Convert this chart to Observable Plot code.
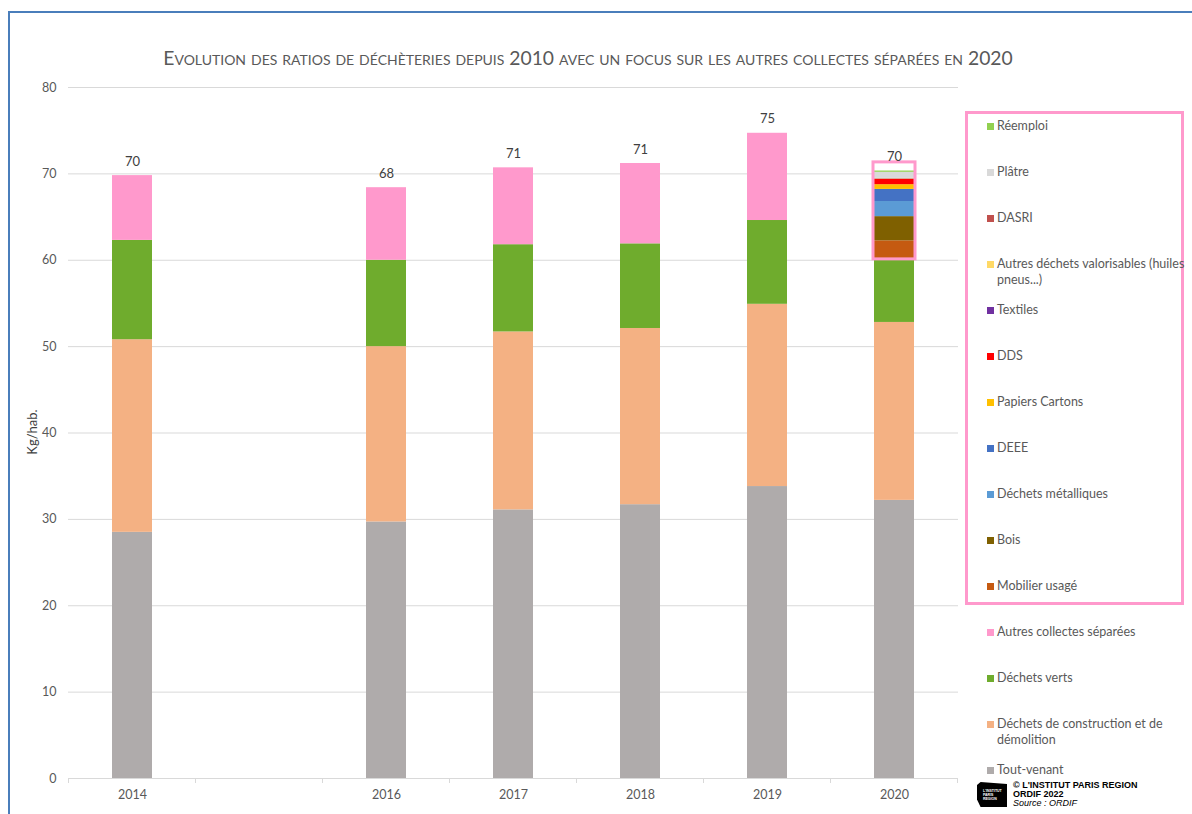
<!DOCTYPE html>
<html><head><meta charset="utf-8">
<script src="https://cdn.jsdelivr.net/npm/d3@7"></script>
<script src="https://cdn.jsdelivr.net/npm/@observablehq/plot@0.6"></script>
<style>
html,body{margin:0;padding:0;background:#fff;overflow:hidden;}
#page{position:relative;width:1192px;height:814px;overflow:hidden;font-family:Lato,"Open Sans",sans-serif;background:#fff;}
#frame{position:absolute;left:8px;top:11px;width:1300px;height:900px;border:2px solid #4A7EBB;box-sizing:border-box;}
#chart{position:absolute;left:0;top:0;}
#title{position:absolute;left:0;width:1176px;top:46px;text-align:center;font-variant:small-caps;font-size:19.3px;line-height:24px;color:#595959;white-space:nowrap;}
#ylabel{position:absolute;left:32px;top:432px;transform:translate(-50%,-50%) rotate(-90deg);font-size:13px;color:#404040;white-space:nowrap;}
#legendBox{position:absolute;left:965px;top:111px;width:219px;height:494px;border:3px solid #FF99CC;box-sizing:border-box;}
.litem{position:absolute;left:997px;width:200px;font-size:12.5px;line-height:16px;color:#595959;}
.lsw{position:absolute;left:987px;width:7px;height:7px;}
#logo{position:absolute;left:977px;top:782px;width:30px;height:25px;background:#000;clip-path:polygon(12% 0,100% 8%,100% 100%,12% 100%,0 70%,0 12%);color:#fff;font-family:Arial,sans-serif;font-size:3.5px;line-height:4px;font-weight:bold;padding:7px 0 0 6px;box-sizing:border-box;}
#credit{position:absolute;left:1013px;top:781px;font-family:Arial,"Liberation Sans",sans-serif;font-size:9px;line-height:9px;color:#000;}
</style></head>
<body><div id="page">
<div id="frame"></div>
<div id="chart"></div>
<div id="title">Evolution des ratios de déchèteries depuis 2010 avec un focus sur les autres collectes séparées en 2020</div>
<div id="ylabel">Kg/hab.</div>
<div id="legendBox"></div>
<div id="logo">L'INSTITUT<br>PARIS<br>REGION</div>
<div id="credit"><b>© L'INSTITUT PARIS REGION</b><br><b>ORDIF 2022</b><br><i>Source : ORDIF</i></div>
</div>
<script>
// Categories (2015 slot is empty in the original chart)
const years = ["2014","2015","2016","2017","2018","2019","2020"];
const yearsWithData = ["2014","2016","2017","2018","2019","2020"];

// Main series (kg/hab.), null = no value
const toutVenant      = [28.5, null, 29.7, 31.1, 31.7, 33.8, 32.2];
const dechetsConstr   = [22.3, null, 20.3, 20.6, 20.4, 21.1, 20.6];
const dechetsVerts    = [11.5, null, 10.0, 10.1,  9.8,  9.7,  7.3];
const autresCollectes = [ 7.5, null,  8.4,  8.9,  9.3, 10.1, null];

// 2020 focus on the "autres collectes séparées" detail (bottom to top)
const detailSeries = ["Mobilier usagé","Bois","Déchets métalliques","DEEE","Papiers Cartons","DDS","Textiles","Autres déchets valorisables (huiles pneus...)","DASRI","Plâtre","Réemploi"];
const detail2020   = [2.15, 2.8, 1.75, 1.4, 0.55, 0.6, 0.05, 0.05, 0.03, 0.7, 0.15];

// Series order (bottom to top) and colours
const stackOrder = ["Tout-venant","Déchets de construction et de démolition","Déchets verts","Autres collectes séparées", ...detailSeries];
const seriesColors = ["#AFABAB","#F4B183","#6FAC2D","#FF99CC","#C55A11","#7F6000","#5B9BD5","#4472C4","#FFC000","#FF0000","#7030A0","#FFD966","#C0504D","#D9D9D9","#92D050"];
const yTicks = [0,10,20,30,40,50,60,70,80];

// Build long table
const rows = [];
const mainSeries = [["Tout-venant", toutVenant],["Déchets de construction et de démolition", dechetsConstr],["Déchets verts", dechetsVerts],["Autres collectes séparées", autresCollectes]];
years.forEach((yr, i) => {
  for (const [name, vals] of mainSeries) if (vals[i] != null) rows.push({year: yr, series: name, value: vals[i]});
});
detailSeries.forEach((name, j) => rows.push({year: "2020", series: name, value: detail2020[j]}));

// Focus box for 2020: from top of the first three series to just above the total
const i2020 = years.indexOf("2020");
const focusLo = toutVenant[i2020] + dechetsConstr[i2020] + dechetsVerts[i2020];
const focusHi = focusLo + d3.sum(detail2020) + 1;
const focus = [{year: "2020", lo: focusLo, hi: focusHi}];

function boundaryTicks(index, scales) {
  const x = scales.x, y = scales.y;
  const bw = typeof x.bandwidth === "function" ? x.bandwidth() : 0;
  const step = typeof x.step === "function" ? x.step() : bw;
  const dom = x.domain();
  const y0 = y(0);
  const pos = dom.map(d => x(d) - (step - bw) / 2);
  pos.push(x(dom[dom.length - 1]) + bw + (step - bw) / 2);
  const g = d3.create("svg:g").attr("stroke", "#d9d9d9");
  for (const p of pos) g.append("line").attr("x1", p).attr("x2", p).attr("y1", y0).attr("y2", y0 + 5);
  return g.node();
}

const chart = Plot.plot({
  width: 1192, height: 814,
  marginLeft: 68, marginRight: 234, marginTop: 87, marginBottom: 36,
  style: {background: "transparent", fontFamily: "Lato, 'Open Sans', sans-serif", fontSize: "12.5px", color: "#595959"},
  x: {domain: years, paddingInner: 0.685, paddingOuter: 0.3425, tickSize: 0, tickPadding: 12, label: null,
      tickFormat: d => yearsWithData.includes(d) ? d : ""},
  y: {domain: [0, 80], ticks: 8, tickSize: 0, tickPadding: 12, label: null},
  color: {domain: stackOrder, range: seriesColors},
  marks: [
    Plot.ruleY(yTicks, {stroke: "#d9d9d9"}),
    Plot.barY(rows, {x: "year", y: "value", fill: "series", order: stackOrder}),
    Plot.barY(focus, {x: "year", y1: "lo", y2: "hi", fill: "none", stroke: "#FF99CC", strokeWidth: 3, insetLeft: -1, insetRight: -1}),
    Plot.text(rows, Plot.groupX({y: "sum", text: V => Math.round(d3.sum(V))}, {x: "year", y: "value", text: "value", dy: -14, fill: "#404040", fontSize: 13})),
    boundaryTicks
  ]
});
document.getElementById("chart").appendChild(chart);

// Legend (top to bottom = reverse of stack order)
const page = document.getElementById("page");
const legendOrder = stackOrder.slice().reverse();
legendOrder.forEach((name, k) => {
  const cy = 126 + k * 46;
  const sw = document.createElement("div");
  sw.className = "lsw";
  sw.style.top = (cy - 3.5) + "px";
  sw.style.background = seriesColors[stackOrder.indexOf(name)];
  page.appendChild(sw);
  const t = document.createElement("div");
  t.className = "litem";
  t.style.top = (cy - 8) + "px";
  t.textContent = name;
  page.appendChild(t);
});
</script>
</body></html>
